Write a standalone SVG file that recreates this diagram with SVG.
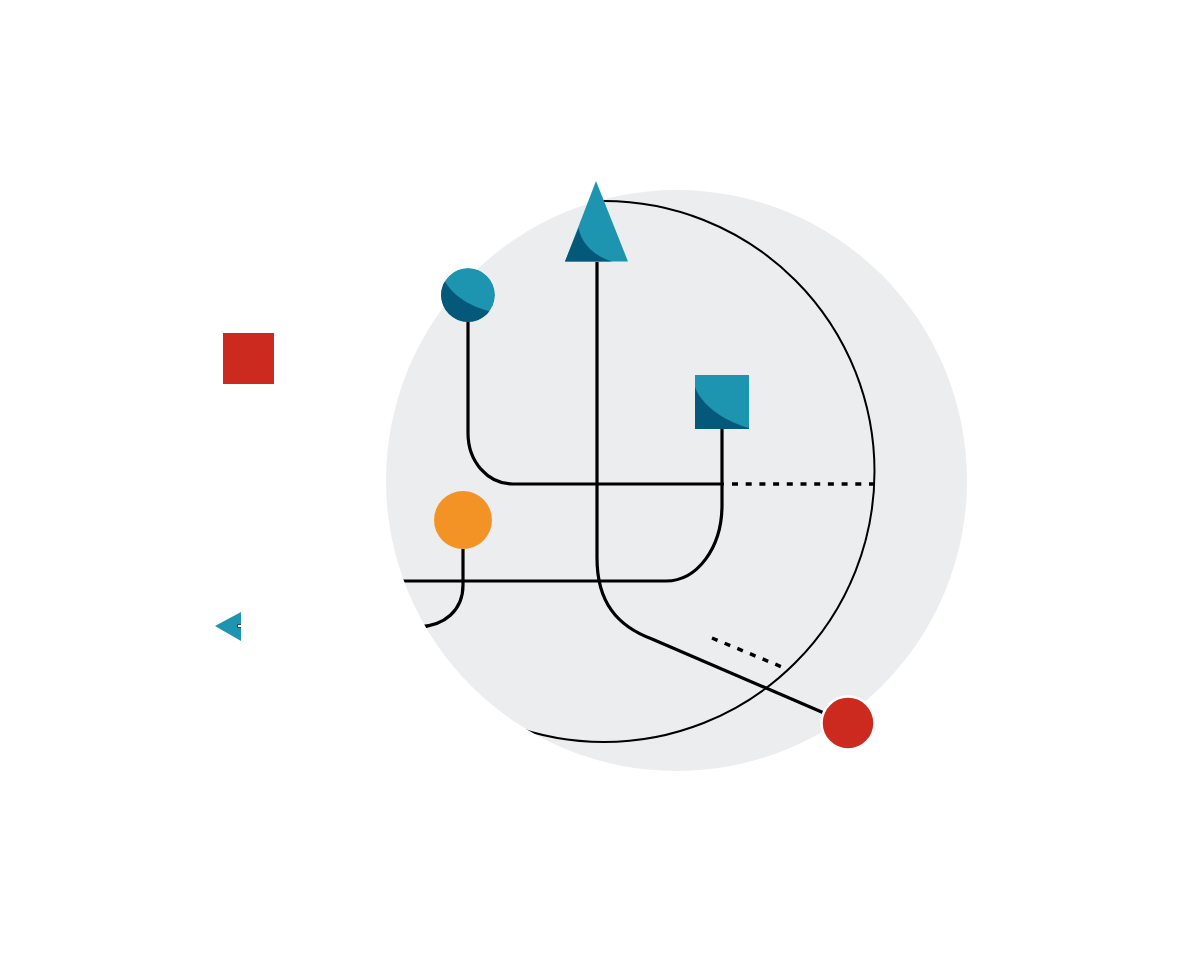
<svg xmlns="http://www.w3.org/2000/svg" width="1181" height="953" viewBox="0 0 1181 953">
<style>
.ln{fill:none;stroke:#000;stroke-width:3.2}
.thin{fill:none;stroke:#000;stroke-width:2}
.dot{fill:none;stroke:#000;stroke-width:3.5;stroke-dasharray:6 7.7}
.lt{fill:#1E95B0}
.dk{fill:#04587A}
</style>
<defs>
<clipPath id="bg"><circle cx="676.5" cy="480.5" r="290.5"/></clipPath>
<clipPath id="cc"><circle cx="468" cy="295" r="27"/></clipPath>
</defs>
<rect width="1181" height="953" fill="#fff"/>
<circle id="backdrop" cx="676.5" cy="480.5" r="290.5" fill="#ECEDEE"/>
<g id="connectors" clip-path="url(#bg)">
<circle class="thin" cx="604" cy="471.5" r="270.5"/>
<path class="ln" d="M468,322 V433 C468,462 488,484 513,484 H724"/>
<path class="dot" d="M732,484 H876"/>
<path class="ln" d="M597,262 V558 C597,602 617,626 652,639 L824,713"/>
<path class="ln" d="M722,429 V505 C722,548 697,581 666,581 H380"/>
<path class="ln" d="M463,549 V585 C463,610 445,626 418,627"/>
<path class="dot" d="M712,638 L782,667"/>
</g>
<g id="red-square"><rect x="223" y="333" width="51" height="51" fill="#CD2A1F"/></g>
<g id="left-triangle">
<path class="lt" d="M215,626 L241,612 V641 Z"/>
<path d="M241,624.5 H237.5 V627.5 H241" fill="#fff" stroke="#1a2a30" stroke-width="0.8"/>
</g>
<g id="teal-circle" clip-path="url(#cc)">
<circle class="lt" cx="468" cy="295" r="27"/>
<path class="dk" d="M440,272 C448,292 465,306 496,313 L496,330 L440,330 Z"/>
</g>
<g id="triangle">
<path class="lt" d="M596,181 L628,261.5 H565 Z"/>
<path class="dk" d="M578.5,228 C582,245 595,256 612,261.5 H565 Z"/>
</g>
<g id="square">
<rect class="lt" x="695" y="375" width="54" height="54"/>
<path class="dk" d="M695,387 C700,402 720,420 749,428 V429 H695 Z"/>
</g>
<g id="orange-circle"><circle cx="463" cy="520" r="29" fill="#F39325"/></g>
<g id="red-circle"><circle cx="848" cy="723" r="26.5" fill="#CD2A1F" stroke="#fff" stroke-width="2.5"/></g>
</svg>
